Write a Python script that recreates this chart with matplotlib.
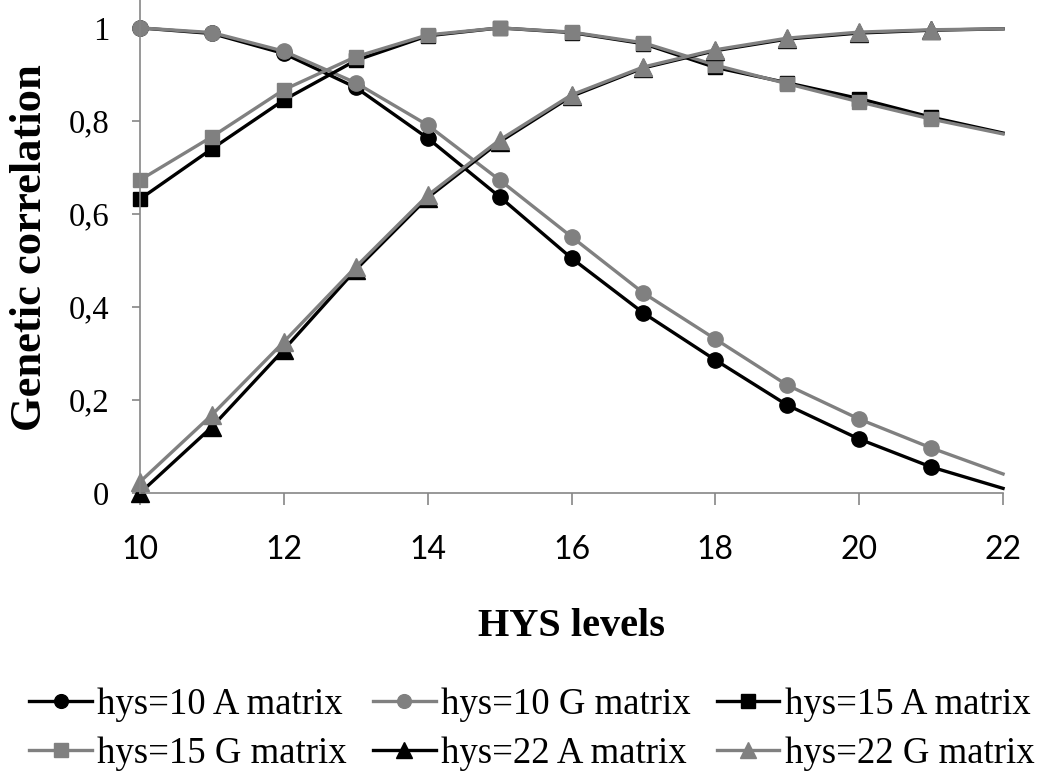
import matplotlib
matplotlib.use("Agg")
import matplotlib.pyplot as plt
from matplotlib.ticker import FixedLocator, FuncFormatter

# HYS levels (x) and genetic correlations
hys_levels = [10, 11, 12, 13, 14, 15, 16, 17, 18, 19, 20, 21, 22]

hys10_A = [1.000, 0.988, 0.945, 0.872, 0.763, 0.637, 0.505, 0.387, 0.286, 0.189, 0.116, 0.056, 0.010]
hys10_G = [1.000, 0.990, 0.950, 0.882, 0.791, 0.673, 0.551, 0.430, 0.331, 0.232, 0.159, 0.097, 0.041]
hys15_A = [0.632, 0.740, 0.845, 0.930, 0.983, 1.000, 0.990, 0.966, 0.915, 0.882, 0.848, 0.808, 0.774]
hys15_G = [0.673, 0.766, 0.867, 0.938, 0.985, 1.000, 0.991, 0.968, 0.920, 0.880, 0.841, 0.804, 0.772]
hys22_A = [0.000, 0.142, 0.308, 0.480, 0.635, 0.755, 0.853, 0.914, 0.951, 0.976, 0.989, 0.995, 0.998]
hys22_G = [0.024, 0.168, 0.325, 0.486, 0.640, 0.759, 0.856, 0.916, 0.953, 0.978, 0.991, 0.996, 0.998]

labels = ["hys=10 A matrix", "hys=10 G matrix", "hys=15 A matrix",
          "hys=15 G matrix", "hys=22 A matrix", "hys=22 G matrix"]

BLACK = "#000000"
GREY = "#808080"

series = [
    (hys10_A, BLACK, "o", 11),
    (hys10_G, GREY, "o", 11),
    (hys15_A, BLACK, "s", 10.5),
    (hys15_G, GREY, "s", 10.5),
    (hys22_A, BLACK, "^", 12.5),
    (hys22_G, GREY, "^", 12.5),
]

fig = plt.figure(figsize=(10.43, 7.79), dpi=100)
ax = fig.add_axes([0.1342, 0.3671, 0.8275, 0.6329])

handles = []
for (vals, col, mk, ms), lab in zip(series, labels):
    h, = ax.plot(hys_levels, vals, color=col, lw=2.4, marker=mk, ms=ms,
                 markerfacecolor=col, markeredgecolor=col,
                 markevery=slice(0, 12), clip_on=False, label=lab)
    handles.append(h)

ax.set_xlim(10, 22)
ax.set_ylim(0, 1.06)

ax.xaxis.set_major_locator(FixedLocator([10, 12, 14, 16, 18, 20, 22]))
ax.yaxis.set_major_locator(FixedLocator([0, 0.2, 0.4, 0.6, 0.8, 1.0]))
ax.yaxis.set_major_formatter(FuncFormatter(lambda v, p: f"{v:g}".replace(".", ",")))

for s in ["top", "right"]:
    ax.spines[s].set_visible(False)
for s in ["left", "bottom"]:
    ax.spines[s].set_color("#868686")
    ax.spines[s].set_linewidth(1.2)

ax.tick_params(axis="y", direction="out", length=6, width=1.2, color="#868686",
               pad=16, labelsize=23.5)
ax.tick_params(axis="x", direction="out", length=8.5, width=1.2, color="#868686",
               pad=22, labelsize=23)
for t in ax.get_yticklabels():
    t.set_fontfamily("Liberation Serif")
for t in ax.get_xticklabels():
    t.set_fontfamily("Lato")

fig.text(571 / 1043, 1 - 627 / 779, "HYS levels", ha="center", va="center",
         fontsize=29, fontweight="bold", family="Liberation Serif")
fig.text(30 / 1043, 1 - 248 / 779, "Genetic correlation", ha="center", va="center",
         rotation=90, fontsize=32, fontweight="bold", family="Liberation Serif")

# legend fills column-wise, reorder so rows read left to right
order = [0, 3, 1, 4, 2, 5]
fig.legend([handles[i] for i in order], [labels[i] for i in order],
           ncol=3, loc="center", bbox_to_anchor=(0.51, 1 - 729 / 779),
           frameon=False, prop={"family": "Liberation Serif", "size": 26.5},
           handlelength=1.7, handletextpad=0.15, columnspacing=0.7,
           labelspacing=0.4, markerscale=0.9, borderpad=0, borderaxespad=0)

fig.savefig("out.png", dpi=100)
